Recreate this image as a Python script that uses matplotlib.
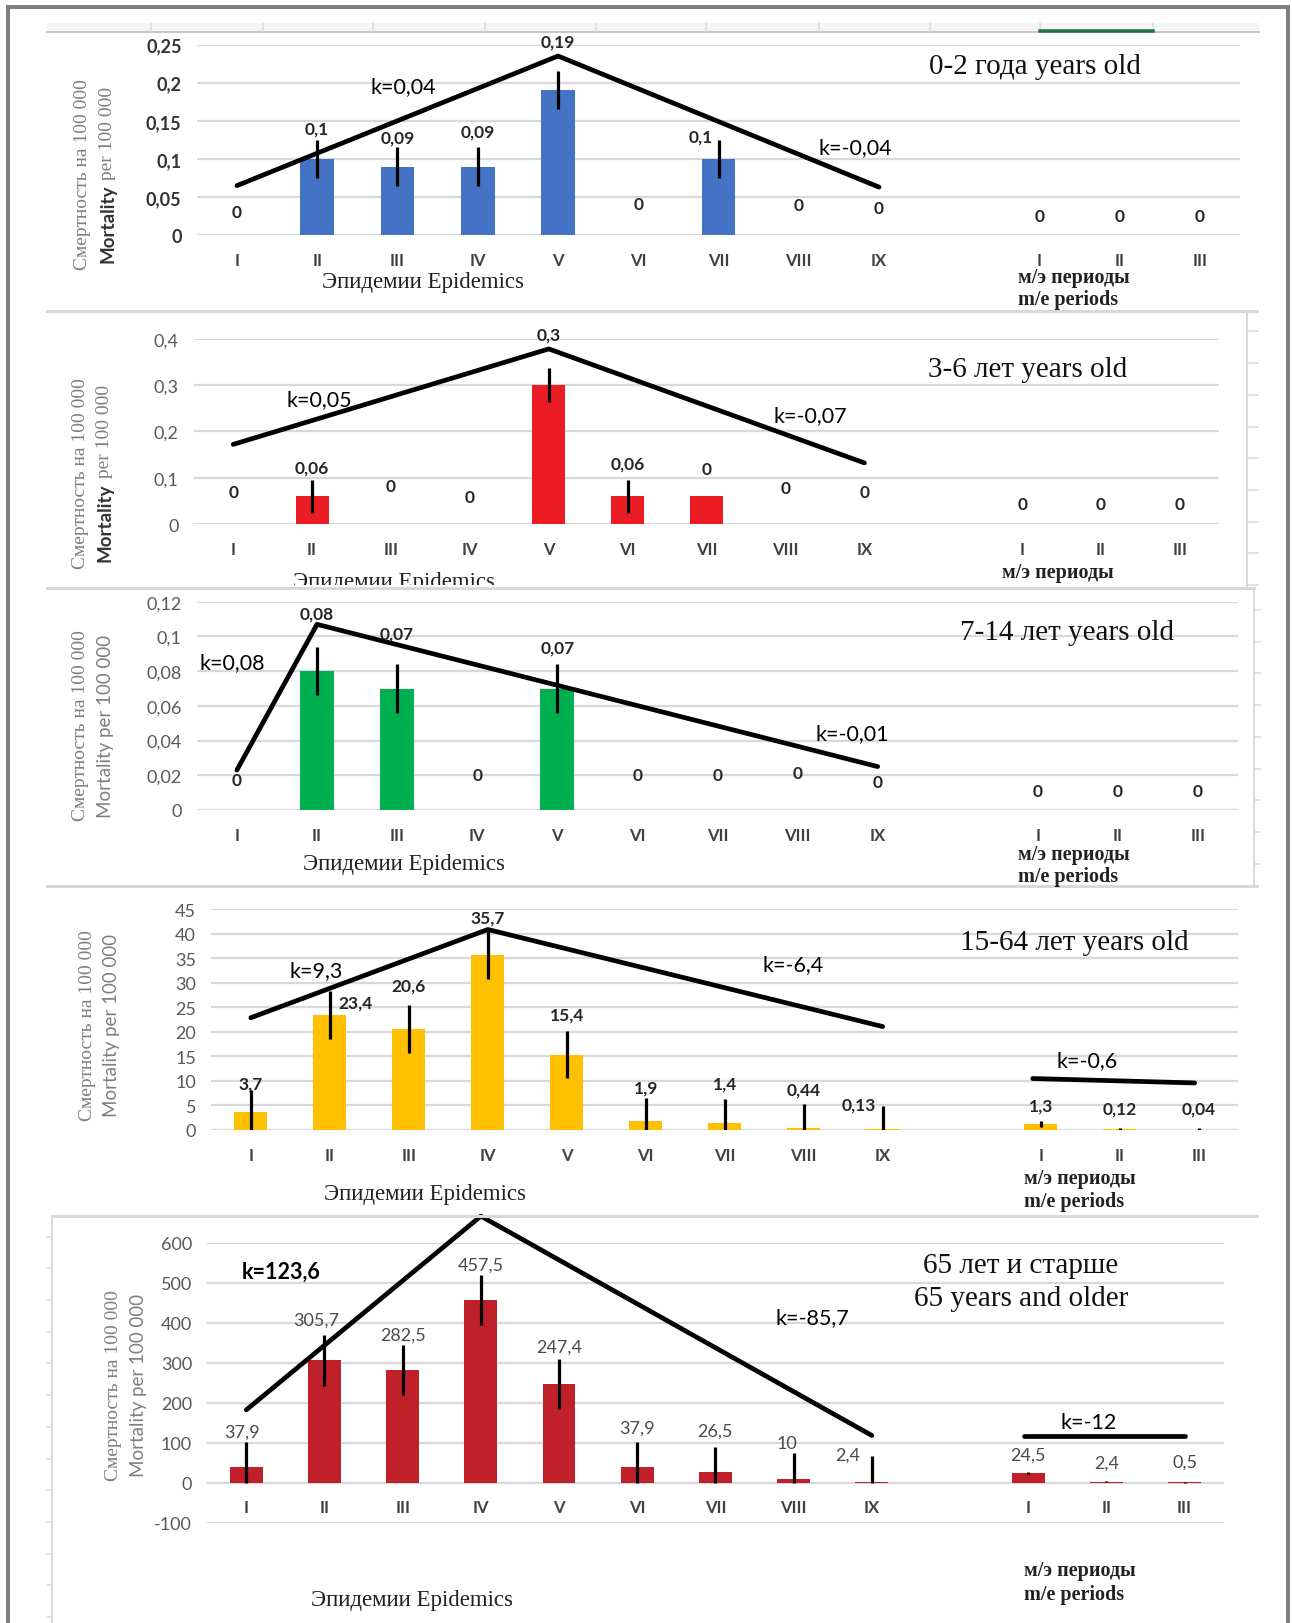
"""
Mortality per 100 000 by age group over epidemics I-IX and
inter-epidemic (m/e) periods I-III, with piecewise trend lines.
"""

import numpy as np
import matplotlib.pyplot as plt
from matplotlib.lines import Line2D
from matplotlib.patches import Rectangle
from matplotlib.transforms import Bbox

SANS = 'Lato'
SERIF = 'Liberation Serif'
plt.rcParams['font.family'] = [SANS, 'DejaVu Sans']

# DATA
EPIDEMICS = ['I', 'II', 'III', 'IV', 'V', 'VI', 'VII', 'VIII', 'IX']
ME_PERIODS = ['I', 'II', 'III']
POSITIONS = list(range(9)) + [10, 11, 12]   # gap between epidemics and m/e periods
TICK_TEXT = EPIDEMICS + ME_PERIODS

# 0-2 years
mort_0_2 = [0, 0.1, 0.09, 0.09, 0.19, 0, 0.1, 0, 0, 0, 0, 0]
err_0_2 = [0, 0.025, 0.025, 0.025, 0.025, 0, 0.025, 0, 0, 0, 0, 0]
lbl_0_2 = ['0', '0,1', '0,09', '0,09', '0,19', '0', '0,1', '0', '0', '0', '0', '0']
trend_x_0_2 = [0, 4, 8]
trend_y_0_2 = [0.065, 0.235, 0.063]
k_0_2 = ['k=0,04', 'k=-0,04']

# 3-6 years
mort_3_6 = [0, 0.06, 0, 0, 0.3, 0.06, 0.06, 0, 0, 0, 0, 0]
err_3_6 = [0, 0.036, 0, 0, 0.036, 0.036, 0, 0, 0, 0, 0, 0]
lbl_3_6 = ['0', '0,06', '0', '0', '0,3', '0,06', '0', '0', '0', '0', '0', '0']
trend_x_3_6 = [0, 4, 8]
trend_y_3_6 = [0.172, 0.378, 0.132]
k_3_6 = ['k=0,05', 'k=-0,07']

# 7-14 years
mort_7_14 = [0, 0.08, 0.07, 0, 0.07, 0, 0, 0, 0, 0, 0, 0]
err_7_14 = [0, 0.014, 0.014, 0, 0.014, 0, 0, 0, 0, 0, 0, 0]
lbl_7_14 = ['0', '0,08', '0,07', '0', '0,07', '0', '0', '0', '0', '0', '0', '0']
trend_x_7_14 = [0, 1, 8]
trend_y_7_14 = [0.023, 0.107, 0.025]
k_7_14 = ['k=0,08', 'k=-0,01']

# 15-64 years
mort_15_64 = [3.7, 23.4, 20.6, 35.7, 15.4, 1.9, 1.4, 0.44, 0.13, 1.3, 0.12, 0.04]
err_15_64 = [4.5, 4.9, 4.9, 4.8, 4.8, 4.7, 4.9, 4.8, 4.8, 0.6, 0.3, 0.3]
lbl_15_64 = ['3,7', '23,4', '20,6', '35,7', '15,4', '1,9', '1,4', '0,44', '0,13',
             '1,3', '0,12', '0,04']
trend_x_15_64 = [0, 3, 8]
trend_y_15_64 = [22.9, 40.9, 21.1]
me_trend_x_15_64 = [9.9, 11.95]
me_trend_y_15_64 = [10.5, 9.6]
k_15_64 = ['k=9,3', 'k=-6,4', 'k=-0,6']

# 65 years and older
mort_65 = [37.9, 305.7, 282.5, 457.5, 247.4, 37.9, 26.5, 10, 2.4, 24.5, 2.4, 0.5]
err_65 = [63, 63, 63, 63, 63, 63, 63, 63, 63, 2, 2, 2]
lbl_65 = ['37,9', '305,7', '282,5', '457,5', '247,4', '37,9', '26,5', '10', '2,4',
          '24,5', '2,4', '0,5']
trend_x_65 = [0, 3, 8]
trend_y_65 = [182, 667, 118]
me_trend_x_65 = [9.95, 12]
me_trend_y_65 = [116, 116]
k_65 = ['k=123,6', 'k=-85,7', 'k=-12']

# LAYOUT (measured on the reference, 1247 x 1568 px)
REF_W, REF_H = 1247, 1568
W, H = 1292, 1624
SC = W / REF_W

PANELS = [
    dict(title='0-2 года years old', vals=mort_0_2, err=err_0_2, labels=lbl_0_2,
         trend=(trend_x_0_2, trend_y_0_2), me_trend=None, k=k_0_2,
         k_pos=[(2.07, 0.196), (7.71, 0.115)], k_bold=[False, False],
         color='#4472C4',
         yticks=[0, 0.05, 0.1, 0.15, 0.2, 0.25], ylim=(0, 0.25),
         box=(190, 44, 1197, 228), title_pos=(9.94, 0.2215),
         ylab=(80, 104, 169), bold_mortality=True, tick_dark=True,
         epi=(408, 273), me=(983, 268, 290), clip=None, lbl_color='#262626',
         dy=[22, 11, 10, 15, 29, 30, 3, 29, 26, 18, 18, 18], dx={6: -17}),
    dict(title='3-6 лет years old', vals=mort_3_6, err=err_3_6, labels=lbl_3_6,
         trend=(trend_x_3_6, trend_y_3_6), me_trend=None, k=k_3_6,
         k_pos=[(1.09, 0.27), (7.32, 0.235)], k_bold=[False, False],
         color='#EC1C24',
         yticks=[0, 0.1, 0.2, 0.3, 0.4], ylim=(0, 0.4),
         box=(187, 328, 1177, 507), title_pos=(10.07, 0.335),
         ylab=(78, 101, 457), bold_mortality=True, tick_dark=False,
         epi=(380, 562), me=(967, 553, 575), clip=566, lbl_color='#262626',
         dy=[31, 12, 37, 26, 33, 16, 26, 35, 31, 19, 19, 19], dx={}),
    dict(title='7-14 лет years old', vals=mort_7_14, err=err_7_14, labels=lbl_7_14,
         trend=(trend_x_7_14, trend_y_7_14), me_trend=None, k=k_7_14,
         k_pos=[(-0.06, 0.0854), (7.68, 0.0442)], k_bold=[False, False],
         color='#00B050',
         yticks=[0, 0.02, 0.04, 0.06, 0.08, 0.1, 0.12], ylim=(0, 0.12),
         box=(190, 582, 1195, 783), title_pos=(10.36, 0.1027),
         ylab=(78, 102, 701), bold_mortality=False, tick_dark=False,
         epi=(390, 835), me=(983, 826, 847), clip=None, lbl_color='#262626',
         dy=[29, 32, 30, 34, 16, 34, 34, 36, 27, 18, 18, 18], dx={}),
    dict(title='15-64 лет years old', vals=mort_15_64, err=err_15_64, labels=lbl_15_64,
         trend=(trend_x_15_64, trend_y_15_64),
         me_trend=(me_trend_x_15_64, me_trend_y_15_64), k=k_15_64,
         k_pos=[(0.83, 32.7), (6.87, 33.8), (10.59, 14.2)],
         k_bold=[False, False, False], color='#FFC000',
         yticks=list(range(0, 50, 5)), ylim=(0, 45),
         box=(204, 879, 1195, 1092), title_pos=(10.43, 38.45),
         ylab=(84, 108, 990), bold_mortality=False, tick_dark=False,
         epi=(410, 1153), me=(988, 1138, 1161), clip=None, lbl_color='#262626',
         dy=[6, -11, 19, 13, 16, 10, 15, 14, 1, 15, 19, 19], dx={1: 25, 8: -23}),
    dict(title='65 лет и старше\n65 years and older', vals=mort_65, err=err_65,
         labels=lbl_65, trend=(trend_x_65, trend_y_65),
         me_trend=(me_trend_x_65, me_trend_y_65), k=k_65,
         k_pos=[(0.45, 530), (7.24, 414), (10.77, 152)],
         k_bold=[True, False, False], color='#C0202A',
         yticks=list(range(-100, 700, 100)), ylim=(-100, 600),
         box=(200, 1201, 1181, 1471), title_pos=(9.91, 504),
         ylab=(110, 134, 1338), bold_mortality=False, tick_dark=False,
         epi=(398, 1545), me=(988, 1517, 1540), clip=None, lbl_color='#4a4a4a',
         dy=[10, 15, 10, 10, 12, 14, 16, 10, 2, 17, 18, 19],
         dx={0: -4, 1: -8, 7: -6, 8: -23}),
]

fig = plt.figure(figsize=(W / 100, H / 100), dpi=100)
renderer = fig.canvas.get_renderer()


def fx(x):
    return x / REF_W


def fy(y):
    return 1 - y / REF_H


def fig_line(xs, ys, color, lw_px, **kw):
    fig.add_artist(Line2D([fx(x) for x in xs], [fy(y) for y in ys],
                          transform=fig.transFigure, color=color,
                          lw=lw_px * 0.72, **kw))


def stacked_ylabel(x, yc, parts):
    """Rotated label built from pieces in different fonts, centred on yc."""
    texts = [fig.text(0, 0, s, rotation=90, ha='center', va='bottom', **kw)
             for s, kw in parts]
    heights = [t.get_window_extent(renderer).height for t in texts]
    y = fy(yc) * H - sum(heights) / 2
    for t, h in zip(texts, heights):
        t.set_position((fx(x), y / H))
        y += h


# screenshot frame and sheet lines
GRID = '#d9d9d9'
fig.add_artist(Rectangle((fx(45), fy(31)), fx(1215) - fx(45), fy(23) - fy(31),
                         transform=fig.transFigure, color='#f5f5f5', lw=0))
fig_line([45, 1215], [31.5, 31.5], '#c8c8c8', 2)
for xt in [146, 254, 360, 468, 575, 681, 790, 898, 1004, 1113]:
    fig_line([xt, xt], [23, 31], '#dedede', 1.5)
fig_line([1004, 1113], [31, 31], '#217346', 3.5)
fig_line([45, 1213], [301, 301], GRID, 3)
fig_line([1204, 1204], [301, 568], GRID, 2)
for yt in np.arange(321, 568, 30.6):
    fig_line([1204, 1214], [yt, yt], GRID, 1.5)
fig_line([45, 1210], [569, 569], GRID, 3)
fig_line([1210, 1210], [569, 856], GRID, 2)
for yt in np.arange(590, 856, 30.6):
    fig_line([1210, 1216], [yt, yt], GRID, 1.5)
fig_line([45, 1213], [856, 856], GRID, 3)
fig_line([50, 1213], [1175, 1175], GRID, 3)
fig_line([50, 50], [1175, 1568], GRID, 2)
for yt in np.arange(1195, 1568, 30.6):
    fig_line([45, 50], [yt, yt], GRID, 1.5)
fig_line([8, 1243], [8, 8], '#7f7f7f', 4)
fig_line([8, 8], [8, 1570], '#7f7f7f', 4)
fig_line([1243, 1243], [8, 1570], '#7f7f7f', 4)

for p in PANELS:
    l, t, r, b = p['box']
    ax = fig.add_axes([fx(l), fy(b), fx(r) - fx(l), fy(t) - fy(b)])
    ax.set_facecolor('none')
    ax.set_xlim(-0.5, 12.5)
    ax.set_ylim(*p['ylim'])
    for s in ax.spines.values():
        s.set_visible(False)
    ax.set_xticks([])
    ax.set_yticks(p['yticks'])
    ax.set_yticklabels([f'{v:g}'.replace('.', ',') for v in p['yticks']],
                       fontsize=13, family=SANS,
                       color='#333333' if p['tick_dark'] else '#595959',
                       fontweight='bold' if p['tick_dark'] else 'normal')
    ax.tick_params(axis='y', length=0, pad=11)
    ax.yaxis.grid(True, color=GRID, lw=1.6)
    ax.set_axisbelow(True)

    vals = np.array(p['vals'], dtype=float)
    err = np.array(p['err'], dtype=float)
    pos = np.array(POSITIONS)
    ax.bar(pos, vals, width=0.42, color=p['color'], zorder=2)
    m = err > 0
    lower = np.minimum(err, vals)
    ax.errorbar(pos[m], vals[m], yerr=[lower[m], err[m]], fmt='none',
                ecolor='black', elinewidth=2.3, capsize=0, zorder=3)

    tx, ty = p['trend']
    ax.plot(tx, ty, color='black', lw=3.4, solid_capstyle='round',
            clip_on=False, zorder=4)
    if p['me_trend'] is not None:
        mx, my = p['me_trend']
        ax.plot(mx, my, color='black', lw=3.4, solid_capstyle='round',
                clip_on=False, zorder=4)

    # data labels above the error bars
    top = vals + err
    bold_lbl = p['lbl_color'] == '#262626'
    for i, (x, s) in enumerate(zip(POSITIONS, p['labels'])):
        ax.annotate(s, (x, top[i]),
                    xytext=(p['dx'].get(i, 0) * SC, p['dy'][i] * SC),
                    textcoords='offset pixels', ha='center', va='center',
                    fontsize=12.5 if bold_lbl else 13, family=SANS,
                    color=p['lbl_color'],
                    fontweight='bold' if bold_lbl else 'normal', zorder=5)

    # category labels sit under the zero line
    for x, s in zip(POSITIONS, TICK_TEXT):
        ax.annotate(s, (x, 0), xytext=(0, -24 * SC), textcoords='offset pixels',
                    ha='center', va='center', fontsize=12, family=SANS,
                    fontweight='bold', color='#404040', annotation_clip=False)

    for s, (kx, ky), kb in zip(p['k'], p['k_pos'], p['k_bold']):
        ax.text(kx, ky, s, ha='center', va='center', fontsize=15.5,
                family=SANS, color='black', zorder=6,
                fontweight='bold' if kb else 'normal')

    lines = p['title'].split('\n')
    n = len(lines)
    for j, line in enumerate(lines):
        ax.annotate(line, p['title_pos'],
                    xytext=(0, ((n - 1) / 2 - j) * 32 * SC),
                    textcoords='offset pixels', ha='center', va='center',
                    fontsize=21, family=SERIF, color='#111111',
                    annotation_clip=False)

    # axis captions
    clip_box = None
    if p['clip'] is not None:
        clip_box = Bbox([[0, fy(p['clip']) * H], [W, H]])
    ex, ey = p['epi']
    caps = [fig.text(fx(ex), fy(ey), 'Эпидемии Epidemics', ha='center',
                     va='center', fontsize=16.5, family=SERIF, color='#222222')]
    mx0, my1, my2 = p['me']
    caps.append(fig.text(fx(mx0), fy(my1), 'м/э периоды', ha='left', va='center',
                         fontsize=14.5, family=SERIF, fontweight='bold',
                         color='#222222'))
    caps.append(fig.text(fx(mx0), fy(my2), 'm/e periods', ha='left', va='center',
                         fontsize=14.5, family=SERIF, fontweight='bold',
                         color='#222222'))
    if clip_box is not None:
        for c in caps:
            c.set_clip_box(clip_box)
            c.set_clip_on(True)

    lx1, lx2, lyc = p['ylab']
    stacked_ylabel(lx1, lyc, [('Смертность на 100 000',
                               dict(family=SERIF, fontsize=14, color='#7f7f7f'))])
    if p['bold_mortality']:
        stacked_ylabel(lx2, lyc, [
            ('Mortality', dict(family=SANS, fontsize=13.5, fontweight='bold',
                               color='#333333')),
            (' per 100 000', dict(family=SERIF, fontsize=14, color='#7f7f7f'))])
    else:
        stacked_ylabel(lx2, lyc, [('Mortality per 100 000',
                                   dict(family=SANS, fontsize=13.5,
                                        color='#7f7f7f'))])

fig.savefig('out.png', dpi=100)
